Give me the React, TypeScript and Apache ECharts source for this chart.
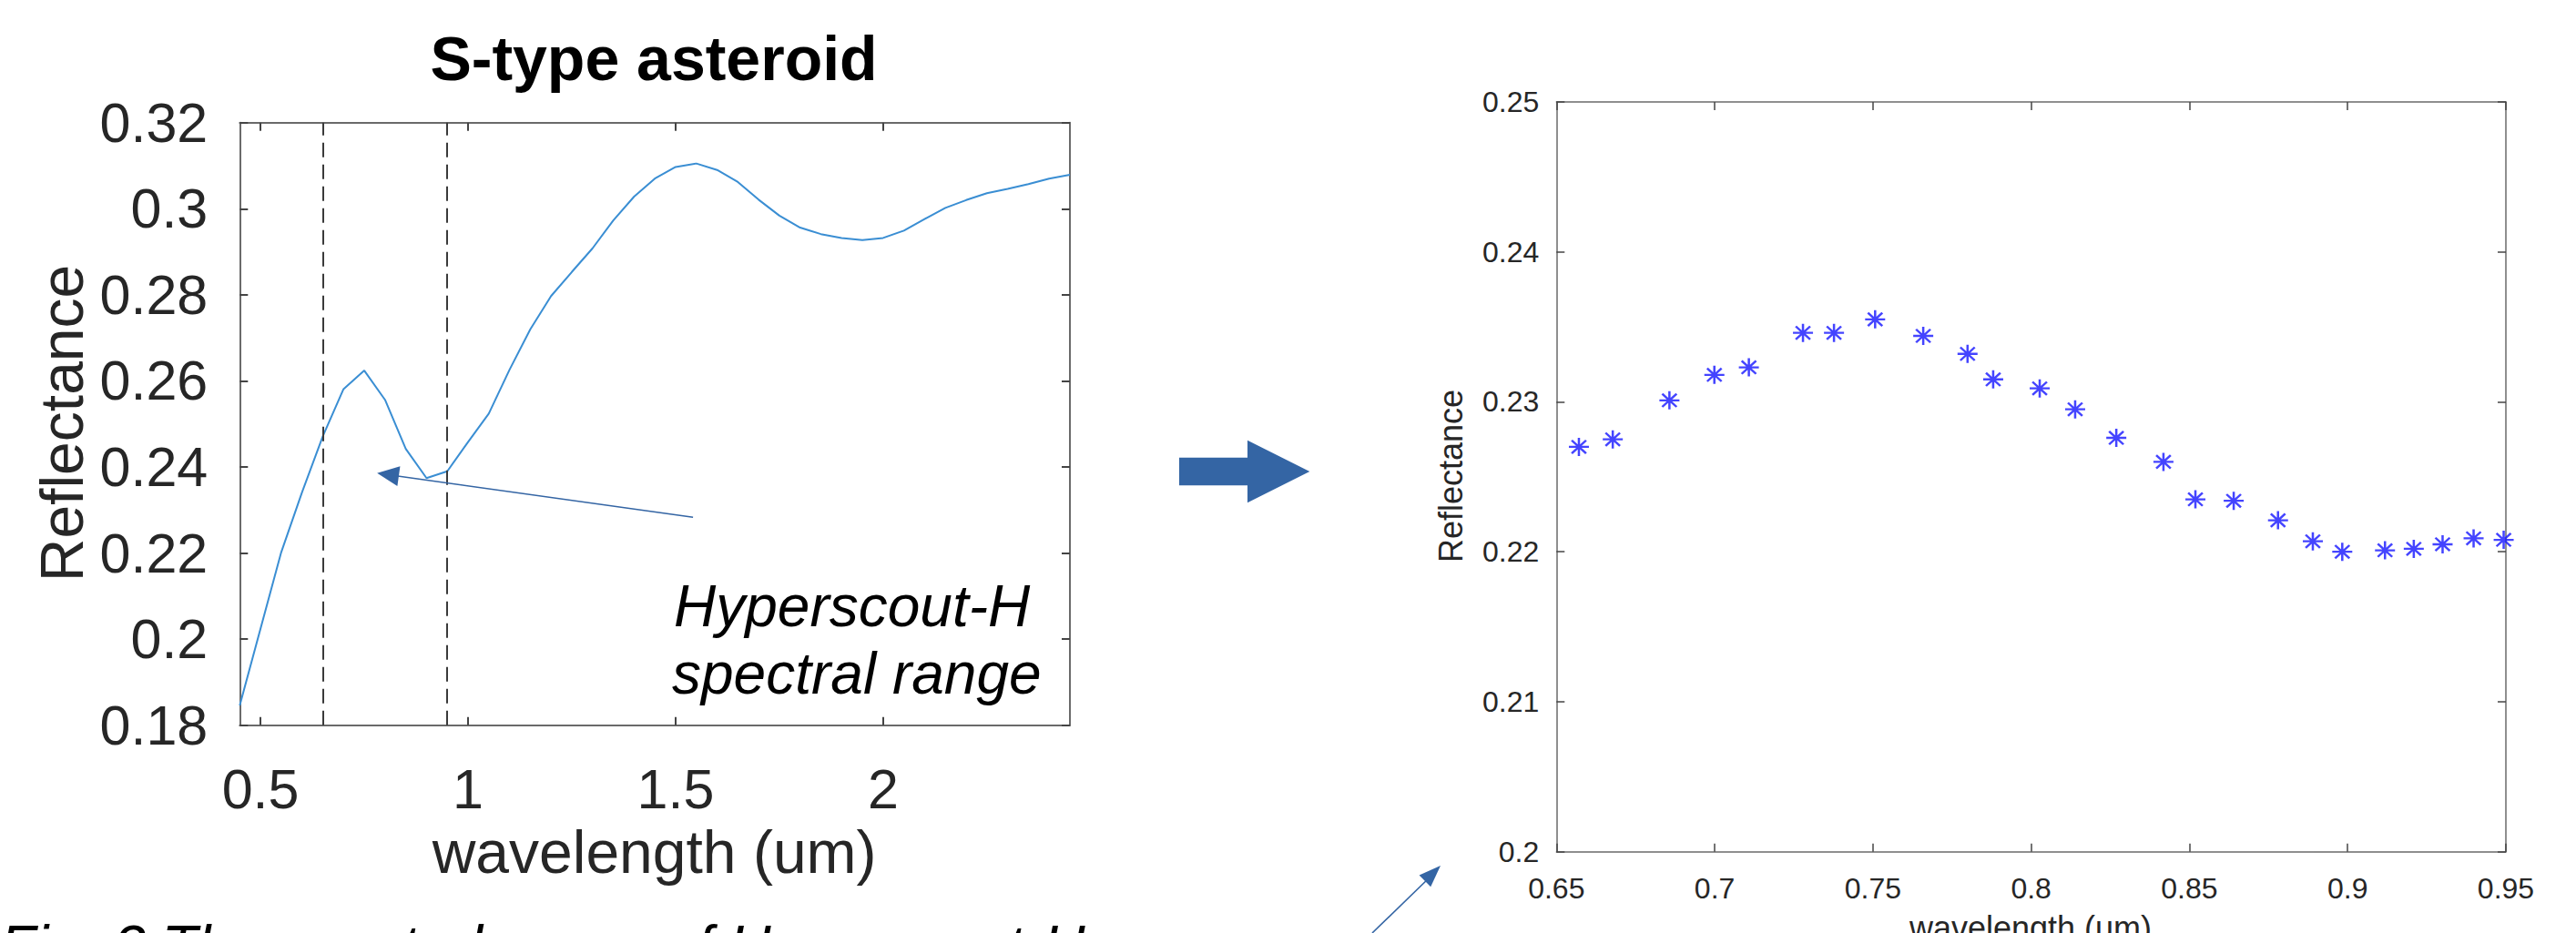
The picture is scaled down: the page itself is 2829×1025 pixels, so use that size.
import React, { useEffect, useRef } from "react";
import * as echarts from "echarts";

// S-type asteroid spectrum (left panel)
const sWavelength = [0.45, 0.55, 0.6, 0.65, 0.7, 0.75, 0.8, 0.85, 0.9, 0.95, 1.0, 1.05, 1.1, 1.15, 1.2, 1.25, 1.3, 1.35, 1.4, 1.45, 1.5, 1.55, 1.6, 1.65, 1.7, 1.75, 1.8, 1.85, 1.9, 1.95, 2.0, 2.05, 2.1, 2.15, 2.2, 2.25, 2.3, 2.35, 2.4, 2.45];
const sReflectance = [0.1846, 0.2202, 0.2341, 0.2471, 0.2581, 0.2624, 0.2556, 0.2442, 0.2374, 0.239, 0.2458, 0.2524, 0.2626, 0.272, 0.2797, 0.2853, 0.2908, 0.2973, 0.3028, 0.307, 0.3097, 0.3105, 0.309, 0.3062, 0.3021, 0.2984, 0.2956, 0.2941, 0.2932, 0.2927, 0.2932, 0.2949, 0.2976, 0.3002, 0.302, 0.3036, 0.3046, 0.3057, 0.307, 0.3079];

// Hyperscout-H sampled spectrum (right panel)
const hsWavelength = [0.6571, 0.6678, 0.6857, 0.6999, 0.7108, 0.7279, 0.7377, 0.7507, 0.7659, 0.7799, 0.788, 0.8027, 0.8139, 0.8269, 0.8418, 0.8519, 0.864, 0.878, 0.889, 0.8983, 0.9118, 0.9209, 0.93, 0.9398, 0.9493];
const hsReflectance = [0.227, 0.2275, 0.2301, 0.2318, 0.2323, 0.2346, 0.2346, 0.2355, 0.2344, 0.2332, 0.2315, 0.2309, 0.2295, 0.2276, 0.226, 0.2235, 0.2234, 0.2221, 0.2207, 0.22, 0.2201, 0.2202, 0.2205, 0.2209, 0.2208];

const leftXTicks = [0.5, 1, 1.5, 2];
const rangeBounds = [0.65, 0.95];
const annotationTail = [1.542, 0.2283];
const annotationTip = [0.807, 0.2382];

const FONT = "Liberation Sans, Arial, Helvetica, sans-serif";
const AXIS_COLOR = "#6a6a6a";
const TEXT_COLOR = "#262626";
const ARROW_BLUE = "#3465a4";
const ASTERISK = "path://M0,-1L0,1M-1,0L1,0M-0.72,-0.72L0.72,0.72M-0.72,0.72L0.72,-0.72";

function axisCommon(extra: any) {
  return {
    type: "value",
    splitLine: { show: false },
    axisLine: { show: true, onZero: false, lineStyle: { color: AXIS_COLOR, width: 2 } },
    ...extra,
  };
}

export default function App() {
  const ref = useRef<HTMLDivElement>(null);
  useEffect(() => {
    const chart = echarts.init(ref.current!, null, { renderer: "svg" });
    const leftTick = { inside: true, length: 9, customValues: leftXTicks, lineStyle: { color: "#444", width: 2 } };
    const leftYTick = { inside: true, length: 9, lineStyle: { color: "#444", width: 2 } };
    const rightTick = { inside: true, length: 9, lineStyle: { color: "#444", width: 1.5 } };
    chart.setOption({
      animation: false,
      backgroundColor: "#ffffff",
      grid: [
        { left: 263.3, top: 134.7, width: 911.7, height: 662, containLabel: false },
        { left: 1709.3, top: 112, width: 1042.7, height: 823.7, containLabel: false },
      ],
      xAxis: [
        axisCommon({
          gridIndex: 0, min: 0.45, max: 2.45, position: "bottom",
          axisTick: leftTick,
          axisLabel: { customValues: leftXTicks, fontSize: 61, color: TEXT_COLOR, fontFamily: FONT, margin: 40 },
        }),
        axisCommon({
          gridIndex: 0, min: 0.45, max: 2.45, position: "top",
          axisTick: leftTick, axisLabel: { show: false },
        }),
        axisCommon({
          gridIndex: 1, min: 0.65, max: 0.95, interval: 0.05, position: "bottom",
          axisLine: { show: true, onZero: false, lineStyle: { color: AXIS_COLOR, width: 1.5 } },
          axisTick: rightTick,
          axisLabel: { fontSize: 32, color: TEXT_COLOR, fontFamily: FONT, margin: 24 },
        }),
        axisCommon({
          gridIndex: 1, min: 0.65, max: 0.95, interval: 0.05, position: "top",
          axisLine: { show: true, onZero: false, lineStyle: { color: AXIS_COLOR, width: 1.5 } },
          axisTick: rightTick, axisLabel: { show: false },
        }),
      ],
      yAxis: [
        axisCommon({
          gridIndex: 0, min: 0.18, max: 0.32, interval: 0.02, position: "left",
          axisTick: leftYTick,
          axisLabel: { fontSize: 61, color: TEXT_COLOR, fontFamily: FONT, margin: 35 },
        }),
        axisCommon({
          gridIndex: 0, min: 0.18, max: 0.32, interval: 0.02, position: "right",
          axisTick: leftYTick, axisLabel: { show: false },
        }),
        axisCommon({
          gridIndex: 1, min: 0.2, max: 0.25, interval: 0.01, position: "left",
          axisLine: { show: true, onZero: false, lineStyle: { color: AXIS_COLOR, width: 1.5 } },
          axisTick: rightTick,
          axisLabel: { fontSize: 32, color: TEXT_COLOR, fontFamily: FONT, margin: 19 },
        }),
        axisCommon({
          gridIndex: 1, min: 0.2, max: 0.25, interval: 0.01, position: "right",
          axisLine: { show: true, onZero: false, lineStyle: { color: AXIS_COLOR, width: 1.5 } },
          axisTick: rightTick, axisLabel: { show: false },
        }),
      ],
      series: [
        {
          type: "line",
          xAxisIndex: 0,
          yAxisIndex: 0,
          data: sWavelength.map((w, i) => [w, sReflectance[i]]),
          showSymbol: false,
          lineStyle: { color: "#3a8ed3", width: 2 },
          silent: true,
          markLine: {
            silent: true,
            symbol: ["none", "none"],
            label: { show: false },
            emphasis: { disabled: true },
            data: [
              ...rangeBounds.map((b) => ({
                xAxis: b,
                lineStyle: { color: "#3a3a3a", width: 2, type: [16, 8] },
              })),
              [
                { coord: annotationTail, symbol: "none", lineStyle: { color: ARROW_BLUE, width: 1.6, type: "solid" } },
                { coord: annotationTip, symbol: "triangle", symbolSize: [22, 24], itemStyle: { color: ARROW_BLUE } },
              ],
            ],
          },
        },
        {
          type: "scatter",
          xAxisIndex: 2,
          yAxisIndex: 2,
          data: hsWavelength.map((w, i) => [w, hsReflectance[i]]),
          symbol: ASTERISK,
          symbolSize: [22, 20],
          symbolKeepAspect: false,
          itemStyle: { color: "#1515ff", borderColor: "#1515ff", borderWidth: 2.4 },
          silent: true,
        },
      ],
      graphic: [
        { type: "text", x: 718, y: 64, style: { text: "S-type asteroid", font: `bold 68px ${FONT}`, fill: "#000", textAlign: "center", textVerticalAlign: "middle" } },
        { type: "text", x: 718.6, y: 936, style: { text: "wavelength (um)", font: `66px ${FONT}`, fill: TEXT_COLOR, textAlign: "center", textVerticalAlign: "middle" } },
        { type: "text", x: 68, y: 465, rotation: Math.PI / 2, style: { text: "Reflectance", font: `66px ${FONT}`, fill: TEXT_COLOR, textAlign: "center", textVerticalAlign: "middle" } },
        { type: "text", x: 740, y: 666, style: { text: "Hyperscout-H", font: `italic 64px ${FONT}`, fill: "#000", textAlign: "left", textVerticalAlign: "middle" } },
        { type: "text", x: 738, y: 740, style: { text: "spectral range", font: `italic 64px ${FONT}`, fill: "#000", textAlign: "left", textVerticalAlign: "middle" } },
        { type: "text", x: 1593, y: 523, rotation: Math.PI / 2, style: { text: "Reflectance", font: `36px ${FONT}`, fill: TEXT_COLOR, textAlign: "center", textVerticalAlign: "middle" } },
        { type: "text", x: 2230, y: 1019, style: { text: "wavelength (um)", font: `36px ${FONT}`, fill: TEXT_COLOR, textAlign: "center", textVerticalAlign: "middle" } },
        { type: "text", x: 0, y: 1040, style: { text: "Fig. 3 The spectral range of Hyperscout-H on", font: `italic 64px ${FONT}`, fill: "#000", textAlign: "left", textVerticalAlign: "middle" } },
        {
          type: "polygon",
          shape: { points: [[1295, 502.7], [1370, 502.7], [1370, 483.7], [1438.3, 518], [1370, 552.3], [1370, 533.3], [1295, 533.3]] },
          style: { fill: ARROW_BLUE },
        },
        { type: "line", shape: { x1: 1507, y1: 1025, x2: 1572, y2: 962 }, style: { stroke: ARROW_BLUE, lineWidth: 1.6 } },
        { type: "polygon", shape: { points: [[1582, 951], [1571.2, 974.2], [1558.6, 961.4]] }, style: { fill: ARROW_BLUE } },
      ],
    });
    return () => chart.dispose();
  }, []);
  return <div ref={ref} style={{ position: "absolute", left: 0, top: 0, width: 2829, height: 1025, background: "#fff" }} />;
}
